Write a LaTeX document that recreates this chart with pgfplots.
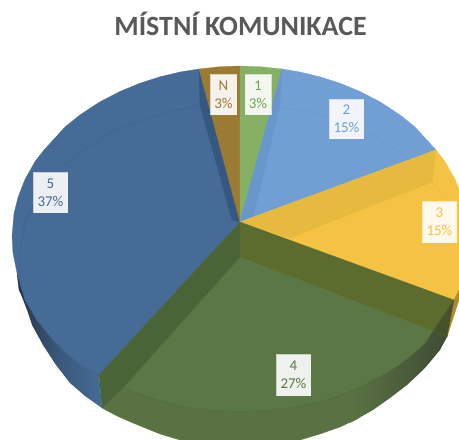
\documentclass[border=0pt]{standalone}
\usepackage{pgfplots}
\pgfplotsset{compat=1.18}
\usepackage{fontspec}
\setmainfont{Carlito}
\definecolor{bMain}{HTML}{456B96}
\definecolor{bStrip}{HTML}{34587F}
\definecolor{nBrown}{HTML}{9B7A33}
\definecolor{gLight}{HTML}{86B064}
\definecolor{cMain}{HTML}{729FD3}
\definecolor{cStrip}{HTML}{6897CB}
\definecolor{yMain}{HTML}{F5C344}
\definecolor{yStrip}{HTML}{E6B93F}
\definecolor{gMain}{HTML}{5A7745}
\definecolor{gWall}{HTML}{5A7243}
\definecolor{gLeft}{HTML}{4A6337}
\definecolor{olive}{HTML}{5C6B2E}
\definecolor{titleGrey}{HTML}{595959}
\definecolor{bwA}{HTML}{27354A}
\definecolor{sliver}{HTML}{B08A32}
\definecolor{gwD}{HTML}{3F4C35}
\definecolor{corner}{HTML}{47522A}
\definecolor{rimB}{HTML}{3F6390}
\definecolor{rimG}{HTML}{4A6A36}
\definecolor{rimC}{HTML}{6A98CC}
\definecolor{rimY}{HTML}{E8B840}
\definecolor{labG}{HTML}{70A554}
\tikzset{pc/.style={fill=#1,draw=#1,line width=0.25pt},
 rim/.style={draw=#1,line width=0.5pt,line join=round},
 lab/.style={fill=white,fill opacity=0.9,text opacity=1,draw=#1,draw opacity=0.25,line width=0.8pt,text=#1,align=center,inner sep=0pt,
   font=\fontsize{15}{18.3}\selectfont}}
\begin{document}
\begin{tikzpicture}
\begin{axis}[width=459bp,height=440bp,scale only axis,xmin=0,xmax=459,ymin=0,ymax=440,y dir=reverse,
  axis lines=none,ticks=none,clip=true]
% slice 5
\addplot[pc=bMain] coordinates {(240,222)(199,69)(180,72)(160,76.8)(140,83.2)(120,91.5)(100,101.8)(80,114.9)(65,127)(44,150)(35,161.6)(25,179.4)(18,197.3)(14,213.5)(12,236)(13,253)(17,273)(19,290)(25,300)(37,320)(52,339)(67,354)(82,366)(99,375)} --cycle;
% wall of slice 5
\addplot[draw=none,left color=bwA,right color=bMain,middle color=bwA!35!bMain] coordinates {(17,273)(19,290)(22,297)(27,310)(32,325)(43,345)(56,365)(70,383)(85,396)(102,408)(99,375)(82,366)(67,354)(52,339)(37,320)(25,300)(20,285)} --cycle;
% strip of slice 5
\addplot[pc=bStrip] coordinates {(240,222)(199,69)(200,105)(232,220)} --cycle;
% slice N
\addplot[pc=nBrown] coordinates {(240,222)(199,69)(220,66.7)(240,66)} --cycle;
% slice 1
\addplot[pc=gLight] coordinates {(240,222)(240,66)(260,66.7)(282,69)} --cycle;
% slice 2
\addplot[pc=cMain] coordinates {(240,222)(282,69)(300,72)(320,76.8)(340,83.2)(360,91.5)(380,101.8)(400,114.9)(415,127)(436,150)} --cycle;
\addplot[pc=cStrip] coordinates {(240,222)(282,69)(280,105)(252,222)} --cycle;
% slice 3
\addplot[pc=yMain] coordinates {(240,222)(436,150)(445,161.6)(455,179.4)(459,189)(459,290)(454,300)} --cycle;
\addplot[pc=yStrip] coordinates {(240,222)(436,150)(432,182)(290,238)} --cycle;
\addplot[pc=sliver] coordinates {(454,300)(459,290)(459,300)(447,337)} --cycle;
% slice 4: wall
\addplot[pc=gWall] coordinates {(123,388)(150,398)(183,407)(210,410)(240,412)(270,410)(297,407)(330,399)(357,389)(375,380)(375,406)(357,419)(340,427)(320,434)(300,440)(180,440)(160,434)(133,423)(117,416)(102,408)} --cycle;
\addplot[draw=none,left color=gWall,right color=gwD] coordinates {(350,392)(357,389)(381,376)(398,366)(413,354)(425,343)(433,331)(447,337)(440,350)(425,368)(407,385)(390,398)(373,410)(357,419)(350,423)} --cycle;
% slice 4: floor
\addplot[pc=gMain] coordinates {(240,257)(433,331)(425,343)(413,354)(398,366)(381,376)(357,389)(330,399)(297,407)(270,410)(240,412)(210,410)(183,407)(150,398)(123,388)} --cycle;
\addplot[pc=gLeft] coordinates {(240,222)(99,375)(123,388)(240,257)} --cycle;
\addplot[pc=gLeft] coordinates {(99,375)(102,408)(123,388)} --cycle;
\addplot[pc=olive] coordinates {(240,222)(454,300)(433,331)(240,257)} --cycle;
\addplot[pc=corner] coordinates {(454,300)(447,337)(433,331)} --cycle;
% inner rim lines
\addplot[rim=rimB] coordinates {(200,105)(170,112)(140,121)(110,133)(80,152)(55,174)(40,193)(25,222)(19,258)(21,279)(25,300)(37,320)(52,339)(67,354)(82,366)(99,375)};
\addplot[rim=rimG] coordinates {(99,375)(123,388)(150,398)(183,407)(210,410)(240,412)(270,410)(297,407)(330,399)(357,389)(381,376)(398,366)(413,354)(425,343)(433,331)};
\addplot[rim=rimC] coordinates {(280,107)(310,112)(340,121)(370,133)(400,152)(410,160)};
\addplot[rim=rimY] coordinates {(432,182)(442,193)};
\end{axis}
\begin{axis}[width=459bp,height=440bp,scale only axis,xmin=0,xmax=459,ymin=0,ymax=440,y dir=reverse,
  axis lines=none,ticks=none,clip=false]
\addplot[draw=none] coordinates {(0,0)(459,440)};
\node[text=titleGrey,font=\fontsize{28}{28}\bfseries\selectfont] at (axis cs:240.5,24) {MÍSTNÍ KOMUNIKACE};
\node[lab=nBrown,minimum width=27bp,minimum height=41bp] at (axis cs:223.5,94.5) {N\\3\%};
\node[lab=labG,minimum width=27bp,minimum height=41bp] at (axis cs:258,94.5) {1\\3\%};
\node[lab=cMain,minimum width=35bp,minimum height=40bp] at (axis cs:346.5,119) {2\\15\%};
\node[lab=yMain,minimum width=35bp,minimum height=42bp] at (axis cs:439.5,222) {3\\15\%};
\node[lab=gMain,minimum width=35bp,minimum height=42bp] at (axis cs:293.5,375) {4\\27\%};
\node[lab=bMain,minimum width=35bp,minimum height=41bp] at (axis cs:50.5,192.5) {5\\37\%};
\end{axis}
\end{tikzpicture}
\end{document}
